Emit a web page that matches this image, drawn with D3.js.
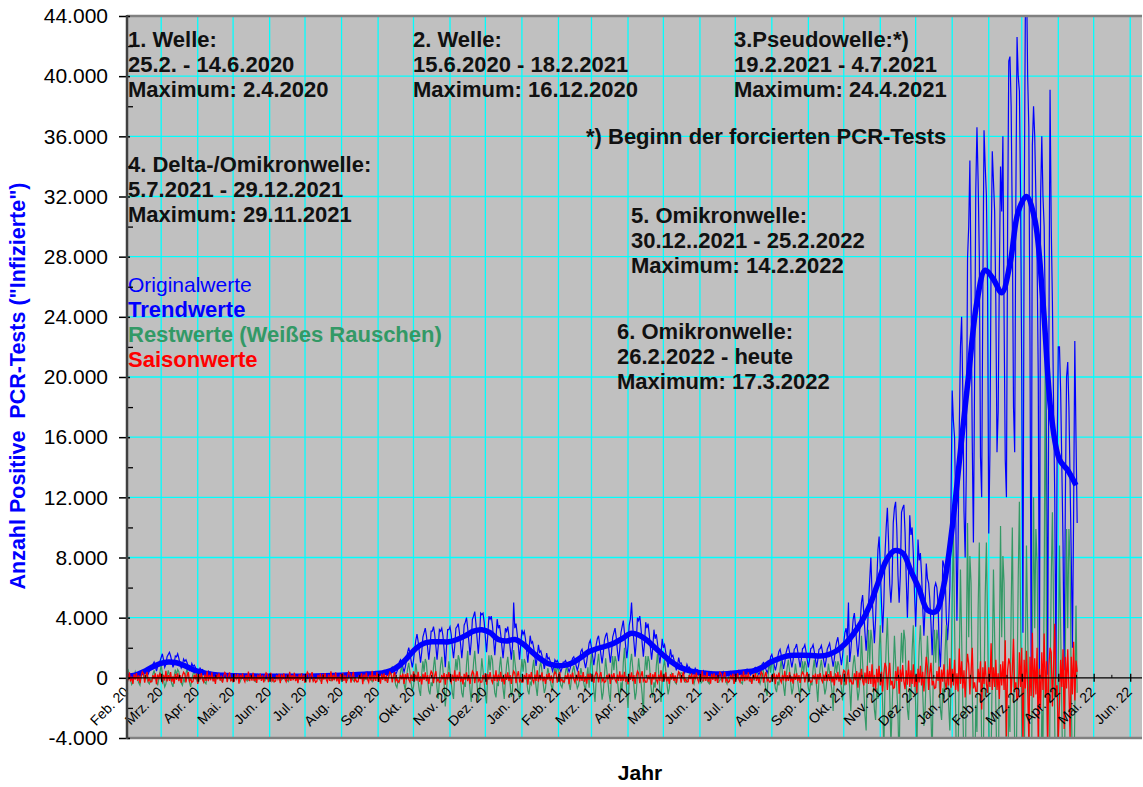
<!DOCTYPE html>
<html><head><meta charset="utf-8">
<script src="https://cdn.jsdelivr.net/npm/d3@7"></script>
<style>body{margin:0;background:#fff}svg{display:block;font-family:"Liberation Sans",Arial,sans-serif}</style>
</head><body>
<svg id="c" width="1143" height="787"></svg>
<script>
// ---------------- DATA ----------------
const startDate = "2020-02-01";           // first daily value
const xStart = "2020-02-01", xEnd = "2022-06-11";
const yMin = -4000, yMax = 44000;
const yTickValues = [-4000,0,4000,8000,12000,16000,20000,24000,28000,32000,36000,40000,44000];
const yMinorValues = [-2000,2000,6000,10000,14000,18000,22000,26000,30000,34000,38000,42000];
const monthLabels = ["Feb. 20","Mrz. 20","Apr. 20","Mai. 20","Jun. 20","Jul. 20","Aug. 20","Sep. 20","Okt. 20","Nov. 20","Dez. 20",
 "Jan. 21","Feb. 21","Mrz. 21","Apr. 21","Mai. 21","Jun. 21","Jul. 21","Aug. 21","Sep. 21","Okt. 21","Nov. 21","Dez. 21",
 "Jan. 22","Feb. 22","Mrz. 22","Apr. 22","Mai. 22","Jun. 22"];

// Trend, one value every 7 days from startDate
const trendWeekly = [100,180,400,700,950,1050,1000,800,550,380,
 250,190,160,140,130,120,110,100,100,100,
 100,100,110,120,140,160,180,200,220,250,
 280,330,480,820,1350,1950,2300,2400,2400,2400,
 2550,2800,3100,3200,3000,2550,2450,2550,2250,1750,
 1300,950,820,830,1000,1350,1750,1950,2100,2300,
 2600,2950,2850,2500,2000,1500,1050,700,500,370,
 300,260,250,290,340,400,470,700,1050,1280,
 1450,1500,1500,1480,1450,1550,1800,2250,2900,3700,
 4800,6300,7800,8450,8300,7100,5900,4500,4400,6200,
 10000,15100,20200,25000,27100,26500,25600,27500,31000,32000,
 30500,25000,17500,14500,13800,12800];

// Original values, daily
const originalDaily = [
50,120,180,90,40,150,200, 150,260,300,200,100,220,350, 380,520,600,420,250,450,620, 700,900,1050,800,450,750,1000,
1100,1350,1600,1200,700,900,1400, 1550,1700,1450,1100,700,950,1450, 1400,1600,1300,900,650,850,1250, 1100,1200,1000,700,500,650,950,
750,850,700,480,330,450,650, 520,560,480,330,220,300,450, 350,380,300,200,140,200,300, 260,280,230,160,100,150,230,
220,240,200,130,90,130,200, 190,210,170,120,70,110,180, 170,200,160,110,70,100,170, 160,180,150,100,60,100,150,
150,170,140,90,50,90,140, 140,150,120,80,50,80,130, 130,160,120,80,40,90,140, 140,150,110,70,50,80,130,
130,150,120,80,50,90,140, 140,160,120,80,50,80,130, 150,170,130,90,60,90,140, 160,180,150,100,60,100,160,
190,210,170,120,70,110,180, 220,240,190,130,80,130,210, 250,270,220,150,90,150,230, 280,300,240,160,100,170,260,
300,330,270,180,110,180,290, 340,380,300,200,130,210,330, 380,420,340,230,140,230,370, 450,500,400,270,170,280,440,
620,700,580,400,250,420,650, 1050,1200,1000,700,400,700,1150, 1700,2000,1650,1150,700,1150,1850, 2500,2900,2400,1700,1000,1700,2700,
3000,3300,2800,2000,1200,2000,3100, 3100,3400,2900,2100,1200,2100,3200, 3100,3300,2800,1900,700,2000,3200, 3200,3400,2900,2000,1300,2100,3300,
3400,3600,3000,2200,1300,2200,3500, 3700,4000,3300,2400,1500,2400,3900, 4100,4400,3600,2600,1600,2700,4300, 4200,4300,3700,2700,1700,2800,4100,
3900,4100,3500,2500,1500,2600,3900, 3300,3500,2900,2100,1300,2200,3300, 3100,3400,2800,2000,1200,2100,5000, 3300,3600,2900,2100,1200,2200,3200,
2900,3100,2600,1800,1000,1900,2800, 2300,2400,2000,1400,800,1400,2200, 1700,1800,1500,1050,600,1050,1650, 1250,1350,1100,750,450,750,1200,
1050,1150,950,650,400,650,1050, 1050,1150,950,650,400,650,1050, 1300,1400,1150,800,500,800,1250, 1750,1900,1550,1050,650,1100,1700,
2300,2500,2000,1400,850,1400,2200, 2600,2800,2200,1550,950,1600,2500, 2800,3000,2400,1700,1000,1700,2700, 3000,3300,2700,1800,1100,1900,3000,
3400,3800,3000,2100,1300,2100,3500, 3900,5000,3400,2400,1400,2400,4000, 3800,4100,3300,2300,1400,2300,3700, 3300,3600,2900,2000,1200,2000,3200,
2600,2900,2300,1600,950,1600,2600, 2000,2200,1700,1200,700,1200,1900, 1400,1500,1200,850,500,850,1350, 950,1000,800,550,330,550,900,
680,720,580,400,240,400,640, 500,540,430,290,170,290,480, 400,440,350,240,140,240,390, 350,380,300,200,120,210,340,
340,370,290,200,120,200,330, 390,420,340,230,140,230,380, 460,500,400,270,160,270,440, 540,580,470,320,190,320,520,
630,690,550,380,220,380,610, 950,1020,820,560,330,560,910, 1400,1550,1250,850,500,850,1370, 1750,1900,1500,1000,600,1050,1650,
1950,2150,1700,1150,700,1150,1900, 2000,2250,1750,1200,700,1200,1950, 2000,2200,1750,1200,700,1200,1950, 2000,2200,1750,1200,700,1200,1900,
1950,2150,1700,1150,700,1150,1900, 2100,2300,1800,1250,750,1250,2000, 2400,2700,2100,1450,850,1450,2350, 3000,3300,2600,5000,1050,1800,2900,
3900,4300,3400,2300,1400,2300,3800, 5000,5500,4300,3000,1800,3000,4800, 6500,8000,5600,3800,2300,3900,6300, 8500,9400,7400,5000,3000,5000,8200,
10000,11300,9100,6200,5000,6300,10300, 11300,11700,9900,6800,5000,6800,11000, 11300,11500,9700,6600,4000,6700,10800, 9500,10000,8300,5700,3400,5700,9200,
7800,8300,6900,4700,2800,4700,7600, 6600,6300,5200,3600,1500,3600,6000, 6300,6000,4900,2000,700,3000,7800, 7500,7000,4000,2500,3800,6000,11800,
19100,17100,16000,11000,3800,9000,16500, 22000,24000,19000,11100,8000,14000,27900, 30000,34400,26000,15700,9000,20000,32400, 36600,33000,28000,14700,12000,26000,36400,
34000,32100,26000,9600,15000,28000,35000, 33000,31000,25000,15000,17700,27000,34000, 31000,36000,24000,14500,12000,30000,41000, 41300,38000,30000,18000,15000,32000,42600,
40000,39000,32000,20000,3000,30000,43700, 47000,40000,36600,22000,300,35400,38000, 36000,32000,28000,20000,0,32000,36000, 32000,30000,24000,15000,200,22000,39100,
30000,25000,18000,12000,0,15000,22000, 22000,19000,14000,9000,500,12000,20000, 21000,18000,13000,8000,2000,11000,22400, 16000,10300];

// Rest values (white noise), daily
const restDaily = [
300,500,200,-150,-450,-300,50, 400,150,-100,-350,-500,100,450, 150,450,350,-50,-300,-400,-100, -200,250,500,100,-250,-500,-50,
400,850,300,-200,-600,-400,100, 500,200,-100,-400,-600,100,550, 200,550,400,-50,-350,-500,-100, -250,300,600,100,-300,-600,-50,
250,400,150,-100,-350,-250,50, 300,100,-100,-300,-400,100,350, 150,250,100,-80,-220,-150,30, 200,80,-50,-180,-250,50,220,
80,220,180,-30,-150,-200,-50, -100,130,250,50,-130,-250,-30, 150,250,100,-80,-220,-150,30, 200,80,-50,-180,-250,50,220,
80,220,180,-30,-150,-200,-50, -100,130,250,50,-130,-250,-30, 150,250,100,-80,-220,-150,30, 200,80,-50,-180,-250,50,220,
80,220,180,-30,-150,-200,-50, -100,130,250,50,-130,-250,-30, 150,250,100,-80,-220,-150,30, 200,80,-50,-180,-250,50,220,
80,220,180,-30,-150,-200,-50, -100,130,250,50,-130,-250,-30, 150,250,100,-80,-220,-150,30, 200,80,-50,-180,-250,50,220,
80,220,180,-30,-150,-200,-50, -100,130,250,50,-130,-250,-30, 150,250,100,-80,-220,-150,30, 200,80,-50,-180,-250,50,220,
250,700,550,-80,-500,-650,-150, -300,400,800,150,-400,-800,-80, 600,1000,400,-300,-900,-600,100, 950,350,-250,-850,-1200,250,1100,
400,1250,1000,-150,-850,-1100,-300, -550,700,1400,300,-700,-1400,-150, 850,1400,550,-400,-1900,-850,150, 1100,400,-300,-1000,-1400,300,1250,
500,1500,1200,-150,-1000,-1300,-300, -600,900,1800,300,-800,-1600,-150, 1000,1800,650,-500,-1500,-1000,150, 1300,500,-300,-1100,-1700,300,1500,
500,1500,1200,-150,-1000,-1300,-300, -550,700,1400,300,-700,-1400,-150, 850,1400,550,-400,-1250,-850,1850, 1100,400,-300,-1000,-1400,300,1250,
400,1250,1000,-150,-850,-1100,-300, -450,600,1200,250,-600,-1200,-150, 700,1100,450,-350,-1000,-700,100, 650,250,-150,-550,-800,150,700,
250,700,550,-80,-500,-650,-150, -300,400,800,150,-400,-800,-80, 500,800,300,-250,-700,-500,80, 650,250,-150,-550,-800,150,700,
-650,800,1600,300,-800,-1600,-150, 950,1600,650,-500,-1450,-950,150, 1300,500,-300,-1100,-1600,300,1450, 500,1450,1100,-150,-950,-1300,-300,
-800,1000,2000,400,-1000,-2000,-200, 950,1600,650,-500,-1450,-950,150, 1300,500,-300,-1100,-2500,300,1450, 500,1450,1100,-150,-950,-1300,-300,
-650,800,1600,300,-800,-1600,-150, 700,1200,500,-350,-1100,-700,100, 300,100,-100,-300,-400,100,350, 100,350,300,-50,-250,-300,-100,
-150,200,400,100,-200,-400,-50, 250,400,150,-100,-350,-250,50, 300,100,-100,-300,-400,100,350, 100,350,300,-50,-250,-300,-100,
-150,200,400,100,-200,-400,-50, 250,400,150,-100,-350,-250,50, 300,100,-100,-300,-400,100,350, 100,350,300,-50,-250,-300,-100,
-150,200,400,100,-200,-400,-50, 950,350,-250,-850,-1200,250,1100, 350,1100,850,-100,-700,-950,-250, -500,600,1200,250,-600,-1200,-100,
700,1200,500,-350,-1100,-700,100, 950,350,-250,-850,-1200,250,1100, 350,1100,850,-100,-700,-950,-250, -500,600,1200,250,-600,-1600,-100,
700,1200,500,-350,-1100,-700,100, 950,350,-250,-850,-2200,250,1100, 350,1100,850,-100,-700,-1500,-250, -500,600,1500,250,-600,-2200,-100,
900,1500,600,-450,-1500,-900,150, 2800,1000,-700,-2500,-3500,700,3200, 1000,3200,2500,-350,-2100,-2800,-700, -1400,1800,3500,700,-1800,-5000,-350,
2100,4000,1400,-1000,-4500,-2100,350, 2800,1000,-700,-2500,-6000,700,3000, 1000,3200,2500,-350,-2100,-2800,-700, -1400,1800,3500,700,-1800,-5000,-350,
2100,3500,1400,-1000,-3200,-2100,350, 2800,1000,-700,-2500,-5500,700,3200, 1000,3200,2500,-350,-2100,-2800,-700, -1400,1800,3500,700,-1800,-3500,-350,
5400,9800,3600,-2700,-8100,-5400,900, 7200,2700,-1800,-6300,-9000,1800,10300, 2700,8100,6300,-900,-5400,-7200,-1800, -3600,4500,9000,1800,-4500,-9000,-900,
5400,9000,3600,-2700,-8100,-5400,900, 7200,2700,-1800,-6300,-9000,1800,10100, 2700,8100,6300,-900,-5400,-7200,-1800, -3600,4500,10000,1800,-4500,-9000,-900,
6600,11700,4400,-3300,-9900,-6600,1100, 8800,3300,-2200,-7700,-11000,2200,12000, 3300,9900,7700,-1100,-6600,-8800,-2200, -4400,5500,22400,2200,-5500,-11000,-1100,
6600,11000,4400,-3300,-9900,-6600,1100, 8800,3300,-2200,-7700,-11000,2200,9900, 3300,9900,7700,-1100,-6600,-8800,-2200, 4800,-1000];

// Seasonal values, daily
const seasonDaily = [
200,-160,360,-240,80,-400,240, -120,320,-200,160,-360,120,400, 280,-320,120,400,-200,-80,-280, -260,180,-80,300,-420,220,-100,
340,-100,-300,200,-180,460,-240, 180,-200,380,-260,100,-380,260, -140,300,-220,180,-340,140,380, 260,-300,140,380,-220,-60,-300,
-240,200,-100,280,-400,240,-120, 320,-120,-280,220,-200,440,-220, 200,-160,360,-240,80,-400,240, -100,300,-180,140,-320,100,360,
240,-280,100,360,-180,-60,-260, -220,160,-60,260,-380,200,-80, 300,-80,-260,180,-160,420,-220, 160,-180,340,-220,80,-340,220,
-120,280,-200,160,-300,120,340, 240,-280,120,340,-200,-40,-260, -220,180,-80,260,-360,220,-100, 300,-100,-260,200,-180,400,-200,
180,-160,340,-220,100,-360,240, -120,300,-200,160,-340,120,380, 260,-300,140,380,-220,-60,-300, -240,200,-100,280,-400,240,-120,
320,-120,-280,220,-200,440,-220, 200,-160,360,-240,80,-400,240, -120,320,-200,160,-360,120,400, 280,-320,120,400,-200,-80,-280,
-260,180,-80,300,-420,220,-100, 340,-100,-300,200,-180,460,-240, 180,-200,380,-260,100,-380,260, -140,300,-220,180,-340,140,380,
260,-300,140,380,-220,-60,-300, -240,200,-100,280,-400,240,-120, 320,-120,-280,220,-200,440,-220, 220,-180,400,-260,100,-440,260,
-140,360,-220,180,-400,140,440, 300,-360,140,440,-220,-80,-300, -280,200,-100,320,-460,240,-120, 380,-120,-320,220,-200,500,-260,
220,-180,400,-260,100,-440,260, -140,360,-220,180,-400,140,440, 300,-360,140,440,-220,-80,-300, -280,200,-100,320,-460,240,-120,
380,-120,-320,220,-200,500,-260, 220,-180,400,-260,100,-440,260, -140,360,-220,180,-400,140,440, 300,-360,140,440,-220,-80,-300,
-280,200,-100,320,-460,240,-120, 380,-120,-320,220,-200,500,-260, 200,-160,360,-240,80,-400,240, -120,320,-200,160,-360,120,400,
280,-320,120,400,-200,-80,-280, -260,180,-80,300,-420,220,-100, 340,-100,-300,200,-180,460,-240, 180,-200,380,-260,100,-380,260,
-140,300,-220,180,-340,140,380, 260,-300,140,380,-220,-60,-300, -240,200,-100,280,-400,240,-120, 320,-120,-280,220,-200,440,-220,
220,-180,400,-260,100,-440,260, -140,360,-220,180,-400,140,440, 300,-360,140,440,-220,-80,-300, -280,200,-100,320,-460,240,-120,
380,-120,-320,220,-200,500,-260, 200,-160,360,-240,80,-400,240, -120,320,-200,160,-360,120,400, 280,-320,120,400,-200,-80,-280,
-260,180,-80,300,-420,220,-100, 340,-100,-300,200,-180,460,-240, 180,-200,380,-260,100,-380,260, -140,300,-220,180,-340,140,380,
260,-300,140,380,-220,-60,-300, -240,200,-100,280,-400,240,-120, 320,-120,-280,220,-200,440,-220, 200,-160,360,-240,80,-400,240,
-120,320,-200,160,-360,120,400, 280,-320,120,400,-200,-80,-280, -260,180,-80,300,-420,220,-100, 340,-100,-300,200,-180,460,-240,
180,-200,380,-260,100,-380,260, -140,300,-220,180,-340,140,380, 260,-300,140,380,-220,-60,-300, -240,200,-100,280,-400,240,-120,
320,-120,-280,220,-200,440,-220, 250,-200,450,-300,100,-500,300, -150,400,-250,200,-450,150,500, 400,-450,200,550,-300,-100,-400,
-400,300,-150,450,-650,350,-150, 600,-200,-500,350,-350,800,-400, 450,-400,900,-600,200,-900,600, -300,800,-500,400,-900,300,1000,
700,-800,300,1000,-500,-200,-700, -650,450,-200,750,-1050,550,-250, 850,-250,-750,500,-450,1150,-600, 500,-400,900,-600,200,-1000,600,
-300,800,-500,400,-900,300,1400, 700,-800,300,1000,-500,-200,-700, -650,450,-200,750,-1050,550,-250, 900,-300,-800,550,-500,1300,-650,
600,-500,1200,-800,300,-900,1950, -400,1100,-700,500,-1300,400,1600, 900,-1100,400,2000,-700,-300,-900, -900,600,-300,1100,-2100,700,-400,
1100,-400,-1000,700,-600,2300,-800, 700,-600,1200,-800,300,-1400,900, -500,1100,-800,2500,-3900,500,1300, 900,-1100,500,2600,-800,-300,-1500,
-1200,1700,-600,2000,-4500,1200,-700, 1800,-700,-4200,1400,-1200,3000,-1300, 1300,-1100,2000,-4500,600,-2000,1700, -800,2950,-1300,1100,-4800,800,2000,
1700,-1900,800,3600,-1200,-500,-4200, -1700,1200,-600,1900,-3400,1400,-700, 1900,-700,-4000,1400,-1100,2400,-1500, 1150,400];

const legendItems = [
 {text:"Originalwerte", color:"#0000ff", weight:"normal", size:21},
 {text:"Trendwerte", color:"#0000ff", weight:"bold", size:22},
 {text:"Restwerte (Weißes Rauschen)", color:"#339966", weight:"bold", size:22},
 {text:"Saisonwerte", color:"#ff0000", weight:"bold", size:22}];

const annotationBlocks = [
 {x:128, y:47, lines:["1. Welle:","25.2. - 14.6.2020","Maximum: 2.4.2020"]},
 {x:413, y:47, lines:["2. Welle:","15.6.2020 - 18.2.2021","Maximum: 16.12.2020"]},
 {x:734, y:47, lines:["3.Pseudowelle:*)","19.2.2021 - 4.7.2021","Maximum: 24.4.2021"]},
 {x:586, y:144, lines:["*) Beginn der forcierten PCR-Tests"]},
 {x:128, y:172, lines:["4. Delta-/Omikronwelle:","5.7.2021 - 29.12.2021","Maximum: 29.11.2021"]},
 {x:631, y:223, lines:["5. Omikronwelle:","30.12..2021 - 25.2.2022","Maximum: 14.2.2022"]},
 {x:617, y:339, lines:["6. Omikronwelle:","26.2.2022 - heute","Maximum: 17.3.2022"]}];

// ---------------- CHART ----------------
const svg = d3.select("#c");
const L = 127, R = 1142, T = 16, B = 738;
const parseDay = d3.timeParse("%Y-%m-%d");
const start = parseDay(startDate);
const x = d3.scaleTime().domain([parseDay(xStart), parseDay(xEnd)]).range([L, R]);
const y = d3.scaleLinear().domain([yMin, yMax]).range([B, T]);
const fmt = d3.formatLocale({decimal:",", thousands:".", grouping:[3], currency:["","€"], minus:"-"}).format(",d");
const months = d3.timeMonth.range(parseDay("2020-02-01"), parseDay("2022-06-02"));

svg.append("rect").attr("width",1143).attr("height",787).attr("fill","#fff");
svg.append("rect").attr("x",L).attr("y",T).attr("width",R-L).attr("height",B-T).attr("fill","#c0c0c0");

// grid
const grid = svg.append("g").attr("stroke","#00ffff").attr("stroke-width",1.3);
grid.selectAll(".v").data(months.slice(1)).join("line")
  .attr("x1",d=>x(d)).attr("x2",d=>x(d)).attr("y1",T).attr("y2",B);
grid.selectAll(".h").data(yTickValues.filter(v=>v!==0 && v!==yMin && v!==yMax)).join("line")
  .attr("x1",L).attr("x2",R).attr("y1",d=>y(d)).attr("y2",d=>y(d));

// annotations
const ann = svg.append("g").attr("font-weight","bold").attr("font-size",22).attr("fill","#111");
annotationBlocks.forEach(b=>{
  b.lines.forEach((ln,i)=>{
    ann.append("text").attr("x",b.x).attr("y",b.y+i*24.8).text(ln);
  });
});
// legend
const leg = svg.append("g");
legendItems.forEach((it,i)=>{
  leg.append("text").attr("x",128).attr("y",292+i*25).attr("fill",it.color)
    .attr("font-size",it.size).attr("font-weight",it.weight).text(it.text);
});

// clip
svg.append("clipPath").attr("id","plotclip").append("rect")
  .attr("x",L).attr("y",T).attr("width",R-L).attr("height",B-T);
const plot = svg.append("g").attr("clip-path","url(#plotclip)");
const daily = arr => arr.map((v,i)=>[d3.timeDay.offset(start,i), v]);
const weekly = arr => arr.map((v,i)=>[d3.timeDay.offset(start,i*7), v]);
const line = d3.line().x(d=>x(d[0])).y(d=>y(d[1]));
const smooth = d3.line().x(d=>x(d[0])).y(d=>y(d[1])).curve(d3.curveCatmullRom.alpha(0.5));

plot.append("path").datum(daily(originalDaily)).attr("d",line)
  .attr("fill","none").attr("stroke","#0000ff").attr("stroke-width",1.2);
plot.append("path").datum(daily(restDaily)).attr("d",line)
  .attr("fill","none").attr("stroke","#339966").attr("stroke-width",1.2);
plot.append("path").datum(weekly(trendWeekly)).attr("d",smooth)
  .attr("fill","none").attr("stroke","#0000ff").attr("stroke-width",5.5).attr("stroke-linejoin","round");
plot.append("path").datum(daily(seasonDaily)).attr("d",line)
  .attr("fill","none").attr("stroke","#ff0000").attr("stroke-width",1.3);

// zero axis
const y0 = y(0);
svg.append("line").attr("x1",L).attr("x2",R).attr("y1",y0).attr("y2",y0).attr("stroke","#000").attr("stroke-width",1.3);
const xAx = d3.axisBottom(x).tickValues(months).tickSize(4).tickFormat((d,i)=>monthLabels[i]);
const gx = svg.append("g").attr("transform",`translate(0,${y0})`).call(xAx);
gx.select(".domain").remove();
gx.selectAll(".tick line").attr("stroke","#000").attr("stroke-width",1.3).attr("y1",-4);
gx.selectAll(".tick text").attr("font-size",14).attr("fill","#000")
  .attr("font-family",'"Liberation Sans",Arial,sans-serif')
  .attr("text-anchor","end").attr("dy",null).attr("y",null)
  .attr("transform","translate(2,15) rotate(-45)");
const mids = months.map(d=>d3.timeDay.offset(d,15));
const gxm = svg.append("g").attr("transform",`translate(0,${y0})`)
  .call(d3.axisTop(x).tickValues(mids).tickSize(3).tickFormat(""));
gxm.select(".domain").remove();
gxm.selectAll("line").attr("stroke","#000");

// frame
svg.append("line").attr("x1",L).attr("x2",R).attr("y1",T).attr("y2",T).attr("stroke","#808080").attr("stroke-width",2.5);
svg.append("line").attr("x1",L).attr("x2",R).attr("y1",B).attr("y2",B).attr("stroke","#808080").attr("stroke-width",2.5);

// y axis
const gy = svg.append("g").attr("transform",`translate(${L},0)`)
  .call(d3.axisLeft(y).tickValues(yTickValues).tickSize(8).tickPadding(11).tickFormat(fmt));
gy.select(".domain").remove();
gy.selectAll("line").attr("stroke","#000").attr("stroke-width",1.5).attr("x2",-8).attr("x1",3);
gy.selectAll("text").attr("font-size",21).attr("fill","#000").attr("font-family",'"Liberation Sans",Arial,sans-serif');
const gym = svg.append("g").attr("transform",`translate(${L},0)`)
  .call(d3.axisRight(y).tickValues(yMinorValues).tickSize(6).tickFormat(""));
gym.select(".domain").remove();
gym.selectAll("line").attr("stroke","#000").attr("stroke-width",1.3);
svg.append("line").attr("x1",L).attr("x2",L).attr("y1",T-1).attr("y2",B+1).attr("stroke","#404040").attr("stroke-width",2.5);

// titles
svg.append("text").attr("transform","translate(25,386) rotate(-90)").attr("text-anchor","middle")
  .attr("font-size",21.5).attr("font-weight","bold").attr("fill","#0000ff")
  .attr("xml:space","preserve").text('Anzahl Positive  PCR-Tests ("Infizierte")');
svg.append("text").attr("x",640).attr("y",780).attr("text-anchor","middle")
  .attr("font-size",21).attr("font-weight","bold").attr("fill","#000").text("Jahr");
</script>
</body></html>
